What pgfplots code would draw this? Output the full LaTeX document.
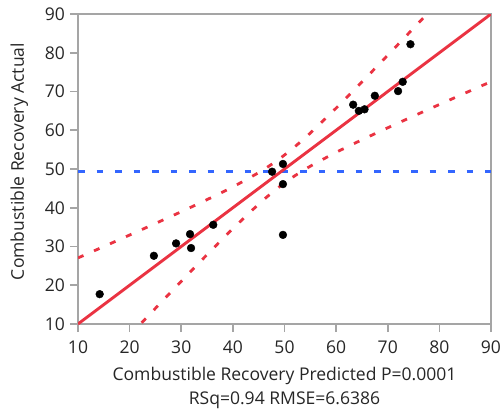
\documentclass[border=0pt]{standalone}
\usepackage{pgfplots}
\pgfplotsset{compat=1.18}
\usepackage{fontspec}
\setmainfont{Open Sans}
\definecolor{jred}{RGB}{234,51,66}
\definecolor{jblue}{RGB}{51,102,255}
\definecolor{axgray}{RGB}{165,165,165}
\definecolor{txt}{RGB}{38,38,38}
\begin{document}
\fontsize{17.6}{20}\selectfont
\begin{tikzpicture}
\path[use as bounding box] (-78bp,-87bp) rectangle (423bp,324bp);
\begin{axis}[name=ax, at={(0,0)}, anchor=south west, scale only axis,
 width=413bp, height=310bp,
 xmin=10, xmax=90, ymin=10, ymax=90,
 xtick={10,20,...,90}, ytick={10,20,...,90},
 axis line style={axgray, line width=1.6bp},
 tick style={axgray, line width=1.6bp}, major tick length=8bp, tick align=outside,
 xtick pos=left, ytick pos=left,
 ticklabel style={font=\fontsize{17.6}{20}\selectfont, text=txt},
 yticklabel style={xshift=1bp},
 xticklabel style={yshift=-2.5bp},
 /pgf/number format/assume math mode=true,
]
\addplot[jblue, line width=2.8bp, dash pattern=on 6.5bp off 12bp] coordinates {(10,49.4) (90,49.4)};
\addplot[jred, line width=2.8bp, dash pattern=on 6bp off 11.5bp, smooth] coordinates {
(10,27.05) (15,29.99) (20,32.96) (25,35.95) (30,38.98) (35,42.10) (40,45.39) (45,49.07) (47.5,51.2) (49.5,53.1) (52,55.75) (55,59.28) (60,65.71) (65,72.47) (70,79.37) (75,86.34) (80,93.36)};
\addplot[jred, line width=2.8bp, dash pattern=on 6bp off 11.5bp, smooth] coordinates {
(20,7.04) (25,14.05) (30,21.02) (35,27.90) (40,34.61) (45,40.93) (47.5,43.8) (49.5,45.9) (52,48.25) (55,50.72) (60,54.29) (65,57.53) (70,60.63) (75,63.66) (80,66.64) (85,69.60) (90,72.54)};
\addplot[jred, line width=2.9bp] coordinates {(10,10) (90,90)};
\addplot[only marks, mark=*, mark size=3.9bp, black] coordinates {
(74.4,82.2) (72.9,72.5) (72.0,70.1) (67.5,68.9) (63.3,66.6) (64.4,65.0) (65.5,65.4)
(47.6,49.3) (49.7,51.3) (49.7,46.1) (49.7,33.0)
(14.2,17.7) (24.7,27.6) (29.0,30.8) (31.7,33.2) (31.9,29.6) (36.2,35.6)};
\end{axis}
\node[anchor=base, text=txt] at ([yshift=-56bp]ax.south) {Combustible Recovery Predicted P=0.0001};
\node[anchor=base, text=txt] at ([yshift=-80bp]ax.south) {RSq=0.94 RMSE=6.6386};
\node[anchor=base, rotate=90, text=txt] at ([xshift=-54bp, yshift=162.5bp]ax.south west) {Combustible Recovery Actual};
\end{tikzpicture}
\end{document}
